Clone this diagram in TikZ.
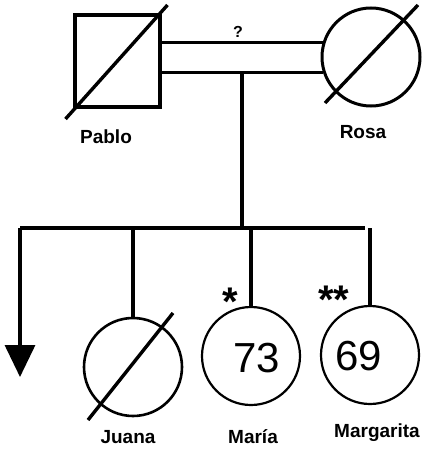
\documentclass[tikz,border=0pt]{standalone}
\usepackage{fontspec}
\setmainfont{Liberation Sans}
\usetikzlibrary{arrows.meta,calc}
\begin{document}
\begin{tikzpicture}[x=1pt,y=-1pt,
  thick line/.style={line width=3.4pt},
  person/.style={draw,line width=2.6pt,inner sep=0pt},
  female/.style={person,circle,minimum size=98pt},
  male/.style={person,rectangle,minimum width=85pt,minimum height=92pt},
  label text/.style={font=\bfseries\fontsize{19}{19}\selectfont},
  age/.style={font=\fontsize{42}{42}\selectfont},
  star/.style={font=\bfseries\fontsize{40}{40}\selectfont}]
\useasboundingbox (0,0) rectangle (442,460);
% parents
\node[male,line width=3.2pt] (pablo) at (117.5,61) {};
\node[female,line width=3pt] (rosa) at (371,57) {};
\draw[thick line] ($(pablo.center)+(-52,58)$) -- ($(pablo.center)+(50,-56)$);
\draw[thick line] ($(rosa.center)+(-46,46)$) -- ($(rosa.center)+(47,-52)$);
\node[label text] (lpablo) at (106,137) {Pablo};
\node[label text] (lrosa) at (363,132) {Rosa};
% marriage
\draw[thick line] (pablo.east |- rosa.163) -- (rosa.163);
\draw[thick line] (pablo.east |- rosa.198) -- (rosa.198);
\node[font=\bfseries\fontsize{16}{16}\selectfont] (q) at (238,32) {?};
\coordinate (mid) at (242,72);
\coordinate (sib) at (242,228);
\draw[thick line] (mid) -- (sib);
% children
\node[female] (juana) at (133,367) {};
\node[female,line width=2.2pt] (maria) at (251,356) {};
\node[female,line width=2.2pt] (marg) at (370,355) {};
\draw[thick line] ($(juana.center)+(-45,53)$) -- ($(juana.center)+(40,-54)$);
\node[age] (a73) at (257,358) {73};
\node[age] (a69) at (359,356) {69};
\node[star] (s1) at (230,302) {*};
\node[star] (s2) at (334,300) {**};
\coordinate (sibl) at (20,228);
\coordinate (sibr) at (365,228);
\coordinate (arrowend) at (20,377);
\draw[thick line] (sibl) -- (sibr);
\draw[thick line,-{Triangle[width=30pt,length=32pt]}] (sibl) -- (arrowend);
\draw[thick line] (juana.north |- sib) -- (juana.north);
\draw[thick line] (maria.north |- sib) -- (maria.north);
\draw[thick line] (marg.north |- sib) -- (marg.north);
\node[label text] (ljuana) at (128,437) {Juana};
\node[label text] (lmaria) at (253,437) {María};
\node[label text] (lmarg) at (377,433) {Margarita};
\end{tikzpicture}
\end{document}
